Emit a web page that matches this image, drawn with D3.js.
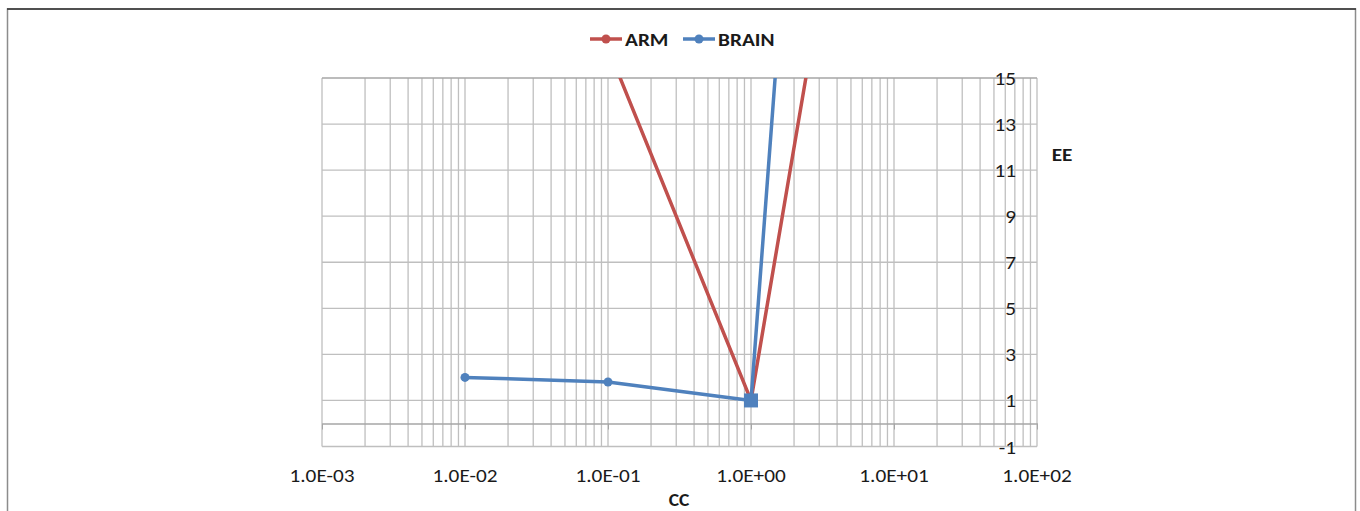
<!DOCTYPE html>
<html>
<head>
<meta charset="utf-8">
<script src="https://cdn.jsdelivr.net/npm/d3@7"></script>
<style>
  body { margin: 0; background: #fff; }
  text { font-family: Calibri, Carlito, Lato, sans-serif; }
</style>
</head>
<body>
<div id="chart"></div>
<script>
// series (points outside the plot are clipped)
const armX = [0.1, 1, 10];
const armY = [16.3, 1, 37.5];
const brainX = [0.01, 0.1, 1, 2];
const brainY = [2, 1.8, 1, 26];
const xTicks = [1e-3, 1e-2, 1e-1, 1e0, 1e1, 1e2];
const xTickLabels = ["1.0E-03", "1.0E-02", "1.0E-01", "1.0E+00", "1.0E+01", "1.0E+02"];
const yTicks = [-1, 1, 3, 5, 7, 9, 11, 13, 15];

const width = 1360, height = 511;
const margin = { top: 78, right: 323, bottom: 64.5, left: 322 };
const redC = "#C0504D", blueC = "#4F81BD", gridC = "#BFBFBF";
const stretch = 1.15; // the picture is a bit wider than tall

const svg = d3.select("#chart").append("svg")
  .attr("width", width).attr("height", height);

// stretched text helper
function label(g, tx, ty, str, anchor, size, weight) {
  return g.append("text")
    .attr("transform", `translate(${tx},${ty}) scale(${stretch},1)`)
    .attr("text-anchor", anchor).attr("font-size", size)
    .attr("font-weight", weight || "normal").attr("fill", "#1a1a1a")
    .text(str);
}

// outer frame
svg.append("rect")
  .attr("x", 7.5).attr("y", 9).attr("width", 1348).attr("height", 520)
  .attr("fill", "none").attr("stroke", "#8c8c8c").attr("stroke-width", 1.5);
svg.append("line").attr("x1", 7).attr("x2", 1356).attr("y1", 9).attr("y2", 9)
  .attr("stroke", "#333").attr("stroke-width", 1.5);

const x = d3.scaleLog().domain([1e-3, 1e2]).range([margin.left, width - margin.right]);
const y = d3.scaleLinear().domain([-1, 15]).range([height - margin.bottom, margin.top]);

svg.append("defs").append("clipPath").attr("id", "clip")
  .append("rect")
  .attr("x", x.range()[0]).attr("y", y.range()[1])
  .attr("width", x.range()[1] - x.range()[0])
  .attr("height", y.range()[0] - y.range()[1]);

// vertical grid (decades + minors)
const vGrid = [];
for (let e = -3; e < 2; e++) for (let m = 1; m < 10; m++) vGrid.push(m * Math.pow(10, e));
vGrid.push(1e2);
svg.append("g").selectAll("line").data(vGrid).join("line")
  .attr("x1", d => x(d)).attr("x2", d => x(d))
  .attr("y1", y(15)).attr("y2", y(-1))
  .attr("stroke", gridC).attr("stroke-width", 1.3);

// horizontal grid
svg.append("g").selectAll("line").data(yTicks).join("line")
  .attr("x1", x(1e-3)).attr("x2", x(1e2))
  .attr("y1", d => y(d)).attr("y2", d => y(d))
  .attr("stroke", d => d === 15 ? "#a6a6a6" : gridC).attr("stroke-width", 1.3);

// x axis at y = 0
const xAxis = svg.append("g").attr("transform", `translate(0,${y(0)})`)
  .call(d3.axisBottom(x).tickValues(xTicks).tickFormat("").tickSizeInner(6).tickSizeOuter(0));
xAxis.select(".domain").attr("stroke", "#a6a6a6").attr("stroke-width", 1.5);
xAxis.selectAll(".tick line").attr("stroke", "#a6a6a6");

// x tick labels below plot
const xl = svg.append("g");
xTicks.forEach((d, i) => label(xl, x(d), y(-1) + 35, xTickLabels[i], "middle", 18.5));

// y labels
const yl = svg.append("g");
yTicks.forEach(d => label(yl, x(1e2) - 21, y(d) + 7, d, "end", 18.5));

// axis titles
label(svg, 679, 506, "CC", "middle", 17, "bold");
label(svg, 1062, 161, "EE", "middle", 18.5, "bold");

// series
const line = d3.line().x(d => x(d[0])).y(d => y(d[1]));
const arm = armX.map((v, i) => [v, armY[i]]);
const brain = brainX.map((v, i) => [v, brainY[i]]);
const plot = svg.append("g").attr("clip-path", "url(#clip)");

plot.append("path").datum(arm).attr("d", line)
  .attr("fill", "none").attr("stroke", redC).attr("stroke-width", 3.5);
plot.append("path").datum(brain).attr("d", line)
  .attr("fill", "none").attr("stroke", blueC).attr("stroke-width", 3.5);

plot.selectAll(".bm").data(brain.filter(d => d[0] < 1)).join("circle")
  .attr("class", "bm")
  .attr("cx", d => x(d[0])).attr("cy", d => y(d[1])).attr("r", 4.5)
  .attr("fill", blueC);
plot.selectAll(".sq").data(brain.filter(d => d[0] === 1)).join("rect")
  .attr("class", "sq")
  .attr("x", d => x(d[0]) - 7).attr("y", d => y(d[1]) - 7)
  .attr("width", 14).attr("height", 14).attr("fill", blueC);

// legend
const legend = [
  { name: "ARM", color: redC, x: 590 },
  { name: "BRAIN", color: blueC, x: 683 }
];
const lg = svg.append("g").selectAll("g").data(legend).join("g")
  .attr("transform", d => `translate(${d.x},39)`);
lg.append("line").attr("x1", 0).attr("x2", 32)
  .attr("stroke", d => d.color).attr("stroke-width", 3.5);
lg.append("circle").attr("cx", 16).attr("r", 4.5).attr("fill", d => d.color);
lg.each(function (d) { label(d3.select(this), 35, 7, d.name, "start", 18.5, "bold"); });
</script>
</body>
</html>
